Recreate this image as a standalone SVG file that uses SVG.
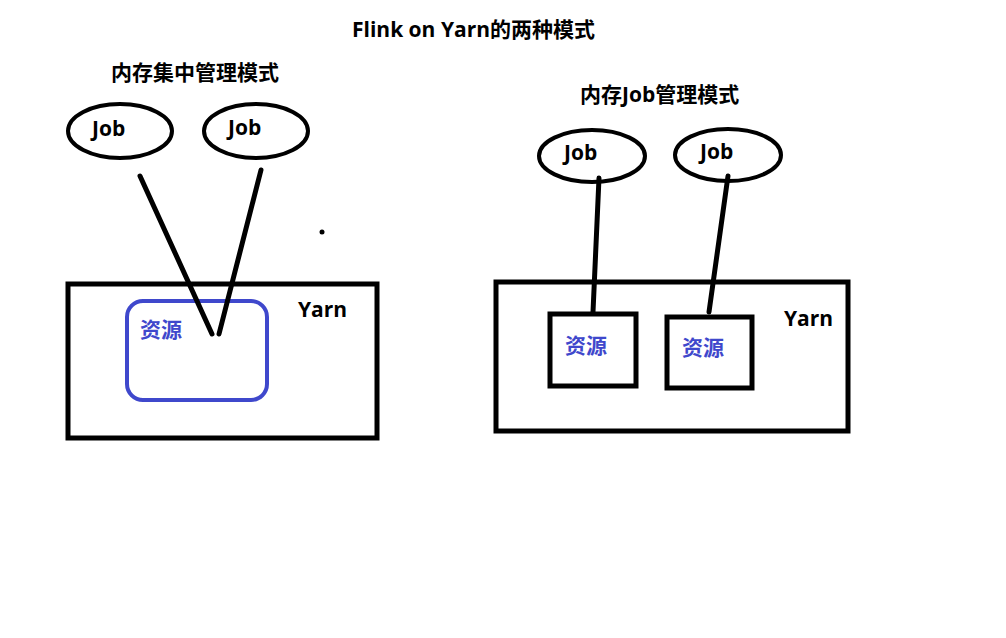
<svg xmlns="http://www.w3.org/2000/svg" width="1006" height="638" viewBox="0 0 1006 638">
<style>
text{font-family:"Open Sans","Noto Sans CJK SC",sans-serif;font-weight:bold;font-size:21px;fill:#000}
.blue{fill:#3f48cc}
.ell{fill:none;stroke:#000;stroke-width:4}
.box{fill:none;stroke:#000;stroke-width:5}
.conn{stroke:#000;stroke-width:5;stroke-linecap:round;fill:none}
</style>
<rect width="1006" height="638" fill="#fff"/>
<text id="title" x="352" y="37">Flink on Yarn的两种模式</text>
<text id="title-left" x="111" y="80">内存集中管理模式</text>
<text id="title-right" x="580" y="102">内存Job管理模式</text>
<g id="yarn-left">
<rect class="box" x="68" y="284" width="309" height="154"/>
<text x="298" y="317">Yarn</text>
</g>
<g id="res-left">
<rect x="127" y="301" width="140" height="99" rx="16" fill="none" stroke="#3f48cc" stroke-width="4"/>
<text class="blue" x="140" y="337">资源</text>
</g>
<g id="job-l1"><ellipse class="ell" cx="120" cy="131" rx="52" ry="27"/><text x="92" y="136">Job</text></g>
<g id="job-l2"><ellipse class="ell" cx="256" cy="131" rx="52" ry="27"/><text x="228" y="135">Job</text></g>
<g id="yarn-right">
<rect class="box" x="496" y="282" width="352" height="149"/>
<text x="784" y="326">Yarn</text>
</g>
<g id="res-r1"><rect class="box" x="550" y="314" width="86" height="72"/><text class="blue" x="565" y="353">资源</text></g>
<g id="res-r2"><rect class="box" x="667" y="317" width="85" height="71"/><text class="blue" x="682" y="355">资源</text></g>
<g id="job-r1"><ellipse class="ell" cx="592" cy="156" rx="53" ry="26"/><text x="564" y="160">Job</text></g>
<g id="job-r2"><ellipse class="ell" cx="728" cy="155" rx="53" ry="26"/><text x="700" y="159">Job</text></g>
<g id="connectors">
<line class="conn" x1="140" y1="176" x2="212" y2="334"/>
<line class="conn" x1="261" y1="170" x2="219" y2="334"/>
<line class="conn" x1="599" y1="178" x2="593" y2="312"/>
<line class="conn" x1="728" y1="176" x2="709" y2="312"/>
</g>
<circle cx="322" cy="232" r="2.5" fill="#000"/>
</svg>
